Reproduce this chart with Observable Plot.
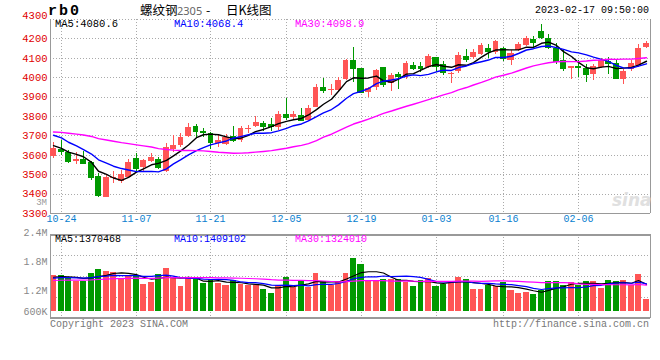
<!DOCTYPE html>
<html>
<head>
<meta charset="utf-8">
<script src="https://cdn.jsdelivr.net/npm/d3@7"></script>
<script src="https://cdn.jsdelivr.net/npm/@observablehq/plot@0.6"></script>
<style>
html,body{margin:0;padding:0;background:#fff;}
#wrap{position:relative;width:660px;height:360px;overflow:hidden;background:#fff;font-family:"Liberation Mono","DejaVu Sans Mono",monospace;}
#wrap svg{position:absolute;left:0;}
.t{position:absolute;white-space:pre;line-height:1;}
</style>
</head>
<body>
<div id="wrap"></div>
<script>
// ---- daily candles rb0 (螺纹钢2305), 80 trading days ----
const opens = [3596,3629,3616,3570,3579,3562,3491,3385,3482,3464,
3485,3582,3539,3568,3579,3517,3630,3648,3698,3750,
3723,3713,3660,3656,3696,3678,3733,3747,3762,3760,
3742,3808,3793,3805,3781,3848,3950,3935,3933,3990,
4088,4045,3925,3951,4052,3970,4014,4003,4062,4058,
4053,4105,4067,4021,4033,4108,4105,4122,4153,4130,
4153,4088,4140,4165,4199,4237,4204,4148,4091,4050,
4057,4045,4014,4053,4085,4074,3990,4040,4062,4155];
const highs = [3664,3678,3624,3616,3622,3567,3505,3500,3515,3522,
3580,3609,3578,3608,3587,3660,3702,3714,3765,3760,
3740,3720,3705,3705,3746,3750,3756,3800,3775,3788,
3825,3893,3826,3839,3856,3966,3994,3966,4000,4092,
4156,4048,3948,4043,4055,4022,4028,4085,4080,4078,
4122,4106,4085,4027,4128,4143,4143,4177,4170,4194,
4155,4140,4180,4211,4210,4276,4221,4178,4140,4058,
4088,4070,4067,4100,4102,4090,4040,4090,4172,4187];
const lows = [3585,3599,3560,3551,3556,3471,3382,3385,3455,3457,
3480,3515,3515,3565,3527,3510,3616,3642,3694,3688,
3692,3629,3642,3652,3666,3668,3712,3743,3725,3722,
3728,3780,3780,3772,3775,3845,3916,3906,3930,3985,
3975,3920,3898,3935,3950,3930,3940,3990,4036,4025,
4050,4025,4010,3970,4022,4078,4093,4114,4100,4120,
4084,4062,4133,4160,4156,4195,4143,4070,4030,3993,
4000,3977,3985,4050,4019,3993,3963,4033,4055,4150];
const closes = [3634,3621,3568,3579,3560,3488,3394,3488,3485,3500,
3562,3533,3573,3588,3535,3640,3651,3694,3745,3724,
3716,3668,3676,3690,3677,3736,3736,3771,3746,3750,
3812,3797,3810,3781,3839,3951,3935,3938,3988,4088,
4048,3925,3945,4036,3965,4011,4006,4074,4050,4049,
4108,4060,4028,4023,4115,4093,4130,4168,4136,4186,
4100,4126,4170,4204,4182,4205,4156,4084,4045,4057,
4052,4019,4057,4088,4075,3994,4033,4074,4148,4175];
// volume in millions of lots
const volumes = [1.511,1.504,1.463,1.393,1.386,1.558,1.635,1.600,1.579,1.455,
1.511,1.504,1.324,1.372,1.531,1.662,1.442,1.283,1.442,1.448,
1.351,1.422,1.351,1.304,1.407,1.318,1.304,1.304,1.221,1.132,
1.304,1.463,1.268,1.401,1.256,1.558,1.386,1.300,1.386,1.558,
1.869,1.745,1.386,1.386,1.428,1.428,1.428,1.372,1.283,1.407,
1.442,1.283,1.318,1.386,1.469,1.428,1.221,1.221,1.304,1.289,
1.359,1.206,1.138,1.159,1.111,1.206,1.386,1.386,1.304,1.366,
1.304,1.386,1.386,1.248,1.407,1.386,1.407,1.304,1.531,1.014];
// 29 sessions before the window (estimated from where the MA lines start)
const prevCloses = [3680,3700,3720,3690,3710,3730,3700,3690,3710,3710,
3720,3740,3760,3780,3770,3750,3760,3740,3750,3757,
3760,3790,3770,3745,3720,3690,3665,3640,3620];
const prevVolumes = [1.35,1.42,1.38,1.30,1.45,1.40,1.36,1.33,1.41,1.39,
1.37,1.44,1.35,1.38,1.40,1.36,1.42,1.39,1.37,1.39,
1.40,1.46,1.42,1.47,1.425,1.45,1.49,1.44,1.484];
// axis ticks
const tickIndex  = [1, 11, 21, 31, 41, 51, 60, 70];
const tickLabels = ["10-24","11-07","11-21","12-05","12-19","01-03","01-16","02-06"];
const priceTicks = [3300,3400,3500,3600,3700,3800,3900,4000,4100,4200,4300];
const volTicks = [2.4, 1.8, 1.2, 0.6];
const volTickLabels = ["2.4M","1.8M","1.2M","600K"];
const maPeriods = [5, 10, 30];
const priceMaTexts = ["MA5:4080.6","MA10:4068.4","MA30:4098.9"];
const volMaTexts = ["MA5:1370468","MA10:1409102","MA30:1324010"];

// ---- styling ----
const RED = "#ff5555", GREEN = "#009900";
const MA_COLORS = ["#000000", "#0000ff", "#ff00ff"];
const GRID = "#aaaaaa", FRAME = "#999999";
const MONO = "Liberation Mono, DejaVu Sans Mono, monospace";

const N = closes.length;
const candles = d3.range(N).map(i => ({i, open: opens[i], high: highs[i], low: lows[i], close: closes[i], vol: volumes[i]}));
const col = d => d.close >= d.open ? RED : GREEN;
function movingAvg(vals, prev, n) {
  const all = prev.concat(vals);
  return vals.map((_, i) => {
    const end = prev.length + i;
    return {i, v: d3.mean(all.slice(end - n + 1, end + 1))};
  });
}
const xDomain = [-0.4, N - 0.4];
const xScale = {domain: xDomain, interpolate: d3.interpolateRound, axis: null};
const dotted = {stroke: GRID, strokeDasharray: "1,2", shapeRendering: "crispEdges"};
const solid = {stroke: FRAME, shapeRendering: "crispEdges"};

const wrap = document.getElementById("wrap");

// ---- price panel ----
const pDomain = [priceTicks[0], priceTicks[priceTicks.length - 1]];
const price = Plot.plot({
  width: 660, height: 228,
  marginLeft: 50, marginRight: 10, marginTop: 19, marginBottom: 15,
  x: xScale,
  y: {domain: pDomain, axis: null},
  color: {type: "identity"},
  style: {background: "transparent", overflow: "visible", fontFamily: MONO},
  marks: [
    Plot.ruleY(priceTicks.slice(1), {y: d => d, ...dotted}),
    Plot.ruleX(tickIndex, {x: d => d, ...dotted}),
    Plot.ruleY([pDomain[0]], {y: d => d, ...solid, strokeWidth: 1.5}),
    Plot.ruleX(xDomain, {x: d => d, ...solid}),
    Plot.ruleX(candles, {x: "i", y1: "low", y2: "high", stroke: col, shapeRendering: "crispEdges"}),
    Plot.rect(candles, {x1: d => d.i - 0.4, x2: d => d.i + 0.4,
      y1: d => Math.min(d.open, d.close), y2: d => Math.max(d.open, d.close),
      fill: col, shapeRendering: "crispEdges"}),
    Plot.ruleY(candles, {x1: d => d.i - 0.4, x2: d => d.i + 0.4, y: "close", stroke: col, shapeRendering: "crispEdges"}),
    ...maPeriods.map((n, k) => Plot.line(movingAvg(closes, prevCloses, n), {x: "i", y: "v", stroke: MA_COLORS[k], strokeWidth: 1.4})),
    Plot.text(priceTicks.slice(0, -1), {y: d => d, text: d => String(d), frameAnchor: "left", textAnchor: "end", dx: -3,
      fill: "#e00000", fontSize: 10.5, fontFamily: MONO}),
    Plot.text(priceTicks.slice(-1), {y: d => d, text: d => String(d), frameAnchor: "left", textAnchor: "end", dx: -3, dy: -4,
      fill: "#e00000", fontSize: 10.5, fontFamily: MONO}),
    Plot.text(tickIndex, {x: d => d, text: (d, i) => tickLabels[i], frameAnchor: "bottom", dy: 8,
      fill: "#0a7fd0", fontSize: 10, fontFamily: MONO})
  ]
});
price.style.top = "0px";
wrap.appendChild(price);

// ---- volume panel ----
const vDomain = [0.627, 2.353];
const VOL_BASE = 0.772;
const vGrid = [1, 2, 3].map(k => vDomain[0] + (vDomain[1] - vDomain[0]) * k / 4);
const vol = Plot.plot({
  width: 660, height: 132,
  marginLeft: 50, marginRight: 10, marginTop: 6.3, marginBottom: 42.3,
  x: xScale,
  y: {domain: vDomain, axis: null},
  color: {type: "identity"},
  style: {background: "transparent", overflow: "visible", fontFamily: MONO},
  marks: [
    Plot.ruleY(vGrid, {y: d => d, ...dotted}),
    Plot.ruleX(tickIndex, {x: d => d, ...dotted}),
    Plot.rect(candles, {x1: d => d.i - 0.4, x2: d => d.i + 0.4, y1: () => VOL_BASE, y2: "vol",
      fill: col, shapeRendering: "crispEdges"}),
    ...maPeriods.map((n, k) => Plot.line(movingAvg(volumes, prevVolumes, n), {x: "i", y: "v", stroke: MA_COLORS[k], strokeWidth: 1.2})),
    Plot.ruleY(vDomain, {y: d => d, ...solid, strokeWidth: 1.5}),
    Plot.ruleX(xDomain, {x: d => d, ...solid}),
    Plot.text(volTicks.slice(0, 3), {y: d => d, text: (d, i) => volTickLabels[i], frameAnchor: "left", textAnchor: "end", dx: -3,
      fill: "#888888", fontSize: 10, fontFamily: MONO}),
    Plot.text(volTicks.slice(3), {y: d => d, text: () => volTickLabels[3], frameAnchor: "left", textAnchor: "end", dx: -3, dy: -8,
      fill: "#888888", fontSize: 10, fontFamily: MONO})
  ]
});
vol.style.top = "228px";
wrap.appendChild(vol);

// ---- texts around the panels ----
function label(text, x, yc, o = {}) {
  const fs = o.size || 10;
  const el = document.createElement("div");
  el.className = "t";
  el.textContent = text;
  el.style.fontSize = fs + "px";
  el.style.top = (yc - (o.k || 0.44) * fs) + "px";
  if (o.anchor === "end") el.style.right = (660 - x) + "px"; else el.style.left = x + "px";
  el.style.color = o.color || "#000";
  if (o.font) el.style.fontFamily = o.font;
  if (o.weight) el.style.fontWeight = o.weight;
  if (o.style) el.style.fontStyle = o.style;
  if (o.spacing) el.style.letterSpacing = o.spacing;
  wrap.appendChild(el);
}
const CJK = "'Noto Sans CJK SC', sans-serif";
label("rb0", 48, 11, {size: 15, weight: "bold", spacing: "2px"});
label("螺纹钢", 140, 10, {size: 12.5, font: CJK, k: 0.5});
label("2305", 177, 10, {size: 11, font: "'Noto Sans', sans-serif", color: "#666", k: 0.5});
label("-", 206, 10, {size: 12.5, font: CJK, k: 0.5});
label("日K线图", 226, 10, {size: 12.5, font: CJK, k: 0.5});
label("2023-02-17 09:50:00", 649, 10, {size: 10, anchor: "end"});
const maX = [55, 174, 295];
priceMaTexts.forEach((t, k) => label(t, maX[k], 24, {size: 10.5, color: MA_COLORS[k]}));
volMaTexts.forEach((t, k) => label(t, maX[k], 239, {size: 10, color: MA_COLORS[k]}));
label("3M", 47, 202.5, {size: 9, anchor: "end", color: "#999"});
label("sina", 612, 199, {size: 17, weight: "bold", style: "italic", color: "#e0e0e0", font: "'DejaVu Sans', sans-serif"});
label("Copyright 2023 SINA.COM", 50, 324, {size: 10, color: "#777"});
label("http://finance.sina.com.cn", 649, 324, {size: 10, anchor: "end", color: "#777"});
</script>
</body>
</html>
